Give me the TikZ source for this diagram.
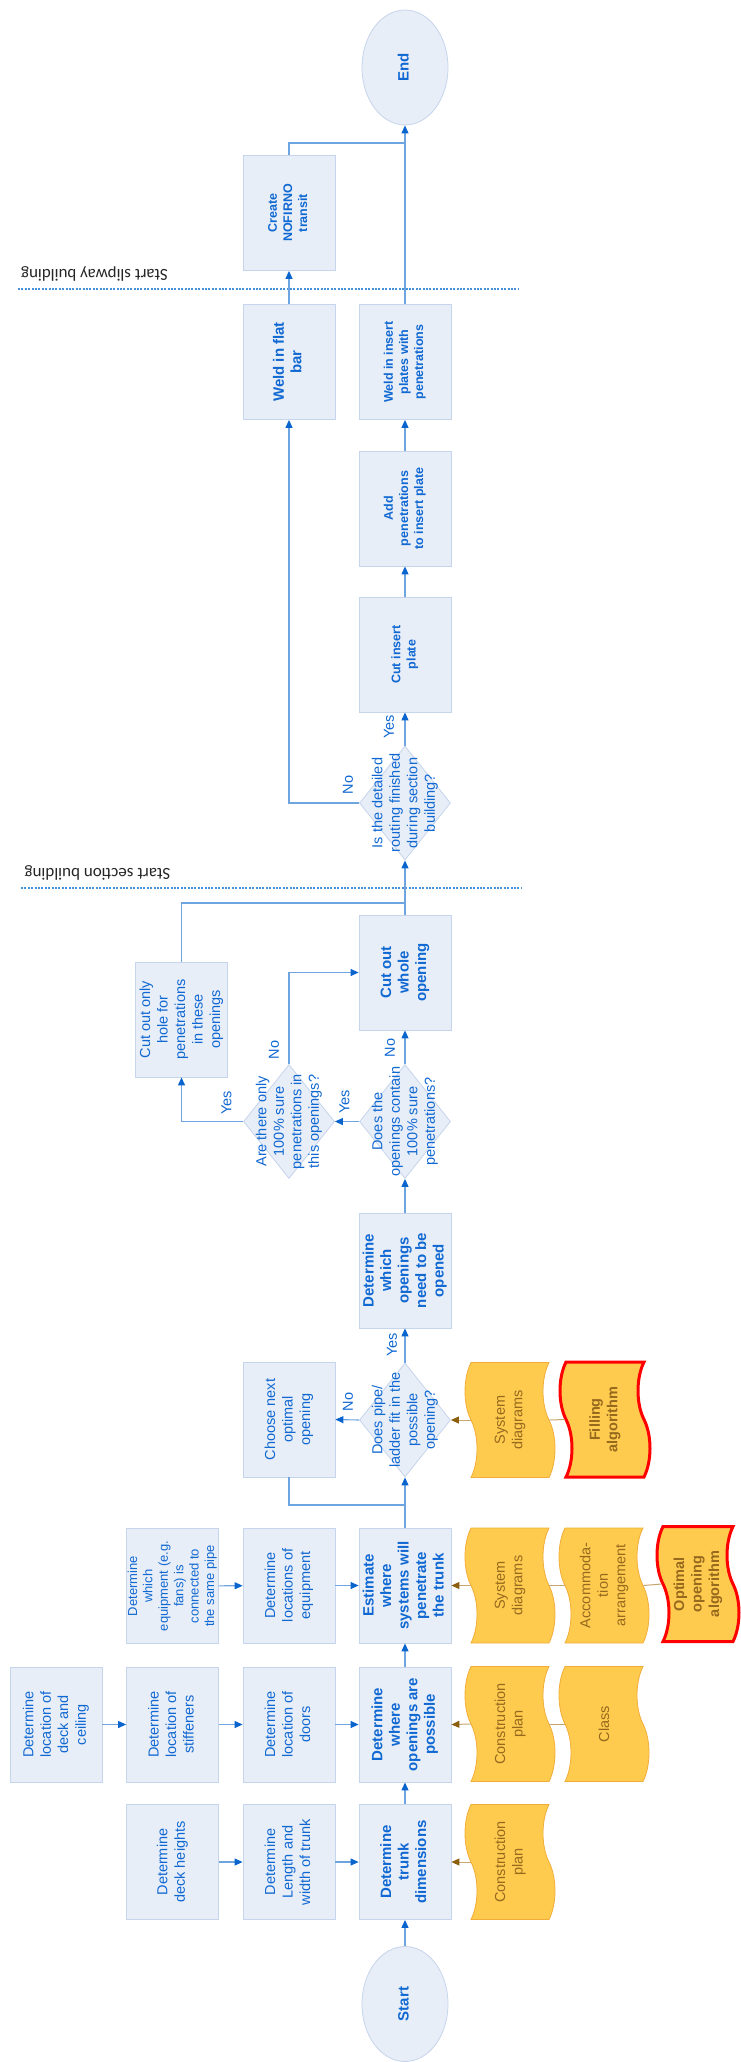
\documentclass[tikz,border=0pt]{standalone}
\usepackage{fontspec}
\setmainfont{Liberation Sans}
\newfontfamily\notefont{Carlito}
\usepackage{graphicx}
\usetikzlibrary{arrows.meta,shapes.geometric,shapes.symbols}

\definecolor{boxfill}{RGB}{232,238,248}
\definecolor{boxline}{RGB}{198,212,236}
\definecolor{boxtext}{RGB}{16,104,210}
\definecolor{flowline}{RGB}{110,165,225}
\definecolor{flowtip}{RGB}{10,100,205}
\definecolor{docfill}{RGB}{254,203,78}
\definecolor{docline}{RGB}{242,172,58}
\definecolor{doctext}{RGB}{150,105,30}
\definecolor{doctip}{RGB}{140,95,15}
\definecolor{docjoin}{RGB}{200,165,110}
\definecolor{sepline}{RGB}{70,145,220}

% rotated multi-line text of zero size, centred on the node
\newcommand{\vtext}[1]{\makebox[0pt][c]{\raisebox{-0.5\height}[0pt][0pt]{\rotatebox{90}{\begin{tabular}{@{}c@{}}#1\end{tabular}}}}}

\tikzset{
  txt/.style={font=\fontsize{14.5}{17.5}\selectfont, text=boxtext},
  task/.style={txt, rectangle, draw=boxline, fill=boxfill, line width=0.8pt,
    minimum width=92pt, minimum height=115pt, inner sep=0pt},
  mtask/.style={task, font=\fontsize{15}{17.5}\selectfont\bfseries},
  stask/.style={task, font=\fontsize{12.5}{15.2}\selectfont\bfseries},
  query/.style={txt, diamond, draw=boxline, fill=boxfill, line width=0.8pt,
    minimum width=91pt, minimum height=114pt, inner sep=0pt},
  term/.style={txt, font=\fontsize{15}{17.5}\selectfont\bfseries, ellipse,
    draw=boxline, fill=boxfill, line width=0.8pt, minimum width=86pt, minimum height=115pt, inner sep=0pt},
  doc/.style={tape, rotate=90, draw=docline, fill=docfill, line width=0.8pt,
    minimum width=115pt, minimum height=90pt, tape bend height=12pt, text=doctext,
    align=center, font=\fontsize{14.5}{17.5}\selectfont, inner sep=0pt},
  algo/.style={doc, draw=red, line width=3pt, font=\fontsize{14.5}{17.5}\selectfont\bfseries},
  flow/.style={draw=flowline, line width=1.1pt, -{Triangle[length=8pt,width=7pt,color=flowtip]}},
  plain/.style={draw=flowline, line width=1.1pt},
  feed/.style={draw=docjoin, line width=1pt, -{Triangle[length=8pt,width=7pt,color=doctip]}},
  doclink/.style={draw=docjoin, line width=1pt},
  answer/.style={txt, rotate=90, inner sep=0pt},
  sep/.style={draw=sepline, line width=2.2pt, dash pattern=on 2pt off 1.4pt},
  phase/.style={font=\notefont\fontsize{17}{19}\selectfont, text=black!85, rotate=180, inner sep=0pt},
}

\begin{document}
\begin{tikzpicture}[x=1pt, y=-1pt]
  \useasboundingbox (0,0) rectangle (740,2062);

  % start and trunk
  \node[term] (start) at (405,2004) {\vtext{Start}};
  \node[mtask] (trunk) at (405,1862) {\vtext{Determine\\trunk\\dimensions}};
  \node[task] (lenw) at (289,1862) {\vtext{Determine\\Length and\\width of trunk}};
  \node[task] (deckh) at (172.5,1862) {\vtext{Determine\\deck heights}};
  \node[doc] (cp1) at (510,1862) {Construction\\plan};

  % possible openings
  \node[mtask] (posb) at (405,1724.5) {\vtext{Determine\\where\\openings are\\possible}};
  \node[task] (doors) at (289,1724.5) {\vtext{Determine\\location of\\doors}};
  \node[task] (stiff) at (172.5,1724.5) {\vtext{Determine\\location of\\stiffeners}};
  \node[task] (deckc) at (56,1724.5) {\vtext{Determine\\location of\\deck and\\ceiling}};
  \node[doc] (cp2) at (510,1724) {Construction\\plan};
  \node[doc] (cls) at (604,1724) {Class};

  % penetrations
  \node[mtask] (estim) at (405,1585.5) {\vtext{Estimate\\where\\systems will\\penetrate\\the trunk}};
  \node[task] (equip) at (289,1585.5) {\vtext{Determine\\locations of\\equipment}};
  \node[task, font=\fontsize{13}{15.4}\selectfont] (same) at (172.5,1586) {\vtext{Determine\\which\\equipment (e.g.\\fans) is\\connected to\\the same pipe}};
  \node[doc] (sd1) at (510,1585.5) {System\\diagrams};
  \node[doc] (acc) at (604,1585.5) {Accommoda-\\tion\\arrangement};
  \node[algo, minimum height=82pt] (ooa) at (698,1584) {Optimal\\opening\\algorithm};

  % fit check
  \node[query] (fit) at (405,1420) {\vtext{Does pipe/\\ladder fit in the\\possible\\opening?}};
  \node[task] (choose) at (289,1419.5) {\vtext{Choose next\\optimal\\opening}};
  \node[doc] (sd2) at (510,1420) {System\\diagrams};
  \node[algo] (fill) at (605,1419.5) {Filling\\algorithm};
  \node[mtask] (which) at (405,1270.5) {\vtext{Determine\\which\\openings\\need to be\\opened}};

  % opening decisions
  \node[query] (contain) at (405,1121.5) {\vtext{Does the\\openings contain\\100\% sure\\penetrations?}};
  \node[query] (are) at (289,1121.5) {\vtext{Are there only\\100\% sure\\penetrations in\\this openings?}};
  \node[task] (hole) at (181.5,1019.5) {\vtext{Cut out only\\hole for\\penetrations\\in these\\openings}};
  \node[mtask] (whole) at (405,972.5) {\vtext{Cut out\\whole\\opening}};

  % section building
  \node[query] (detail) at (405,803) {\vtext{Is the detailed\\routing finished\\during section\\building?}};
  \node[stask] (cutp) at (405,654.5) {\vtext{Cut insert\\plate}};
  \node[stask] (addp) at (405,508.5) {\vtext{Add\\penetrations\\to insert plate}};
  \node[stask] (weldp) at (405,362) {\vtext{Weld in insert\\plates with\\penetrations}};
  \node[mtask] (flat) at (289,362) {\vtext{Weld in flat\\bar}};

  % slipway building
  \node[stask] (create) at (289,213) {\vtext{Create\\NOFIRNO\\transit}};
  \node[term] (end) at (405,67.5) {\vtext{End}};

  % phase separators
  \coordinate (sec1) at (21,888);
  \coordinate (sec2) at (521,888);
  \coordinate (slp1) at (18,289);
  \coordinate (slp2) at (519,289);
  \draw[sep] (sec1) -- (sec2);
  \draw[sep] (slp1) -- (slp2);
  \node[phase] (secl) at (97.5,873) {Start section building};
  \node[phase] (slpl) at (94.5,274) {Start slipway building};

  % main flow
  \draw[flow] (start) -- (trunk);
  \draw[flow] (trunk) -- (posb);
  \draw[flow] (posb) -- (estim);
  \draw[flow] (estim) -- (fit);
  \draw[flow] (fit.north) -- (which.south);
  \draw[flow] (fit.west) -- (choose.east);
  \coordinate (back) at (405,1505);
  \draw[plain] (choose.south) |- (back);
  \draw[flow] (which) -- (contain);
  \draw[flow] (contain.north) -- (whole.south);
  \draw[flow] (contain.west) -- (are.east);
  \draw[flow] (are.north) |- (whole.west);
  \draw[flow] (are.west) -| (hole.south);
  \coordinate (merge) at (405,903);
  \draw[plain] (hole.north) |- (merge);
  \draw[flow] (whole) -- (detail);
  \draw[flow] (detail.north) -- (cutp.south);
  \draw[flow] (detail.west) -| (flat.south);
  \draw[flow] (cutp) -- (addp);
  \draw[flow] (addp) -- (weldp);
  \draw[flow] (flat) -- (create);
  \draw[flow] (weldp) -- (end);
  \coordinate (finish) at (405,143);
  \draw[plain] (create.north) |- (finish);

  % side inputs
  \draw[flow] (deckh) -- (lenw);
  \draw[flow] (lenw) -- (trunk);
  \draw[flow] (deckc) -- (stiff);
  \draw[flow] (stiff) -- (doors);
  \draw[flow] (doors) -- (posb);
  \draw[flow] (same) -- (equip);
  \draw[flow] (equip) -- (estim);

  % documents
  \draw[feed] (cp1.north) -- (trunk.east);
  \draw[feed] (cp2.north) -- (posb.east);
  \draw[feed] (sd1.north) -- (estim.east);
  \draw[feed] (sd2.north) -- (fit.east);
  \draw[doclink] (cp2.south) -- (cls.north);
  \draw[doclink] (sd1.south) -- (acc.north);
  \draw[doclink] (acc.south) -- (ooa.north);
  \draw[doclink] (sd2.south) -- (fill.north);

  % answers
  \node[answer] (fityes) at (392,1345) {Yes};
  \node[answer] (fitno) at (348,1402) {No};
  \node[answer] (conno) at (390,1048) {No};
  \node[answer] (conyes) at (344.5,1102) {Yes};
  \node[answer] (areno) at (274,1050) {No};
  \node[answer] (areyes) at (226.5,1103) {Yes};
  \node[answer] (detno) at (348,785) {No};
  \node[answer] (detyes) at (389,727) {Yes};
\end{tikzpicture}
\end{document}
